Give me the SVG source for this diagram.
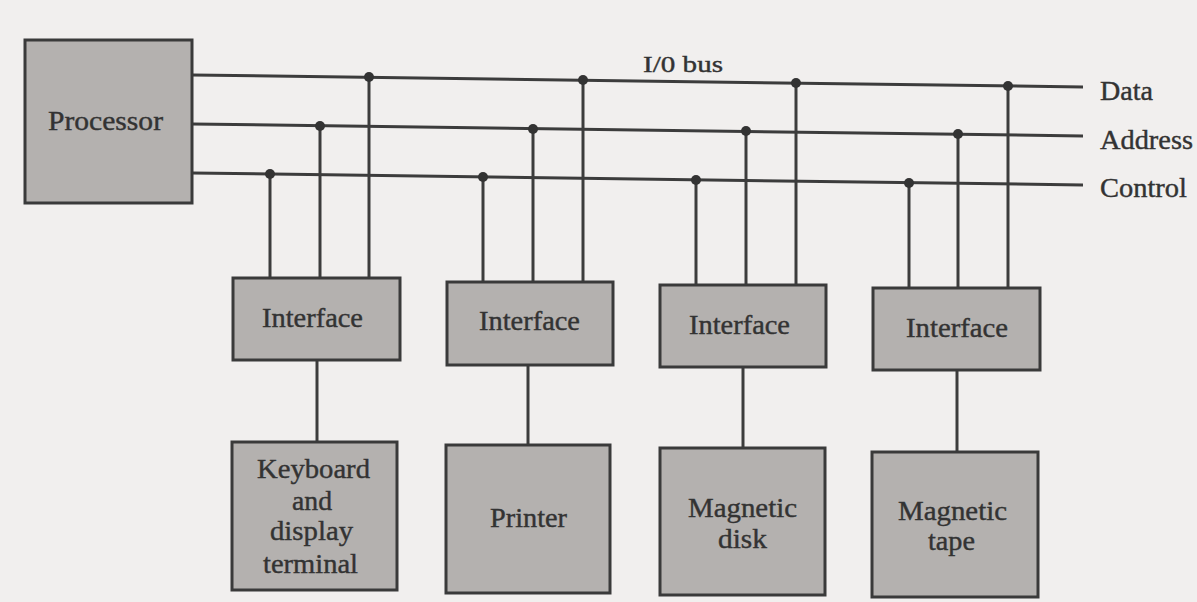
<svg xmlns="http://www.w3.org/2000/svg" width="1197" height="602" viewBox="0 0 1197 602">
<style>
.box{fill:#b4b1af;stroke:#3a3a3a;stroke-width:3}
.ln{stroke:#3c3c3c;stroke-width:3;fill:none}
.dot{fill:#333}
text{font-family:"Liberation Serif","Times New Roman",serif;font-size:27px;fill:#333;stroke:#333;stroke-width:0.4}
</style>
<rect width="1197" height="602" fill="#f1efee"/>
<g id="connectors">
<line class="ln" x1="192" y1="75" x2="1083" y2="87"/>
<line class="ln" x1="192" y1="124" x2="1083" y2="136"/>
<line class="ln" x1="192" y1="173" x2="1083" y2="185"/>
<line class="ln" x1="270" y1="174" x2="270" y2="278"/>
<line class="ln" x1="320" y1="126" x2="320" y2="278"/>
<line class="ln" x1="369" y1="77" x2="369" y2="278"/>
<line class="ln" x1="483" y1="177" x2="483" y2="282"/>
<line class="ln" x1="533" y1="129" x2="533" y2="282"/>
<line class="ln" x1="583" y1="80" x2="583" y2="282"/>
<line class="ln" x1="696" y1="180" x2="696" y2="285"/>
<line class="ln" x1="746" y1="131" x2="746" y2="285"/>
<line class="ln" x1="796" y1="83" x2="796" y2="285"/>
<line class="ln" x1="909" y1="183" x2="909" y2="288"/>
<line class="ln" x1="958" y1="134" x2="958" y2="288"/>
<line class="ln" x1="1008" y1="86" x2="1008" y2="288"/>
<line class="ln" x1="317" y1="360" x2="317" y2="442"/>
<line class="ln" x1="528" y1="365" x2="528" y2="445"/>
<line class="ln" x1="743" y1="367" x2="743" y2="448"/>
<line class="ln" x1="957" y1="370" x2="957" y2="452"/>
<circle class="dot" cx="270" cy="174" r="5"/>
<circle class="dot" cx="320" cy="126" r="5"/>
<circle class="dot" cx="369" cy="77" r="5"/>
<circle class="dot" cx="483" cy="177" r="5"/>
<circle class="dot" cx="533" cy="129" r="5"/>
<circle class="dot" cx="583" cy="80" r="5"/>
<circle class="dot" cx="696" cy="180" r="5"/>
<circle class="dot" cx="746" cy="131" r="5"/>
<circle class="dot" cx="796" cy="83" r="5"/>
<circle class="dot" cx="909" cy="183" r="5"/>
<circle class="dot" cx="958" cy="134" r="5"/>
<circle class="dot" cx="1008" cy="86" r="5"/>
<text x="643" y="72" textLength="80" lengthAdjust="spacingAndGlyphs" style="font-size:24px">I/0 bus</text>
<text x="1100" y="100" textLength="53" lengthAdjust="spacingAndGlyphs">Data</text>
<text x="1100" y="149" textLength="93" lengthAdjust="spacingAndGlyphs">Address</text>
<text x="1100" y="197" textLength="87" lengthAdjust="spacingAndGlyphs">Control</text>
</g>
<g id="processor">
<rect class="box" x="25" y="40" width="167" height="163"/>
<text x="48" y="130" textLength="115" lengthAdjust="spacingAndGlyphs">Processor</text>
</g>
<g id="interface1">
<rect class="box" x="233" y="278" width="167" height="82"/>
<text x="262" y="327" textLength="101" lengthAdjust="spacingAndGlyphs">Interface</text>
</g>
<g id="interface2">
<rect class="box" x="447" y="282" width="166" height="83"/>
<text x="479" y="330" textLength="101" lengthAdjust="spacingAndGlyphs">Interface</text>
</g>
<g id="interface3">
<rect class="box" x="660" y="285" width="166" height="82"/>
<text x="689" y="334" textLength="101" lengthAdjust="spacingAndGlyphs">Interface</text>
</g>
<g id="interface4">
<rect class="box" x="873" y="288" width="167" height="82"/>
<text x="906" y="337" textLength="102" lengthAdjust="spacingAndGlyphs">Interface</text>
</g>
<g id="keyboard">
<rect class="box" x="232" y="442" width="165" height="148"/>
<text x="257" y="478" textLength="113" lengthAdjust="spacingAndGlyphs">Keyboard</text>
<text x="292" y="510" textLength="40" lengthAdjust="spacingAndGlyphs">and</text>
<text x="270" y="540" textLength="83" lengthAdjust="spacingAndGlyphs">display</text>
<text x="263" y="573" textLength="95" lengthAdjust="spacingAndGlyphs">terminal</text>
</g>
<g id="printer">
<rect class="box" x="446" y="445" width="164" height="148"/>
<text x="490" y="527" textLength="77" lengthAdjust="spacingAndGlyphs">Printer</text>
</g>
<g id="disk">
<rect class="box" x="660" y="448" width="165" height="147"/>
<text x="688" y="517" textLength="109" lengthAdjust="spacingAndGlyphs">Magnetic</text>
<text x="718" y="548" textLength="49" lengthAdjust="spacingAndGlyphs">disk</text>
</g>
<g id="tape">
<rect class="box" x="872" y="452" width="166" height="145"/>
<text x="898" y="520" textLength="109" lengthAdjust="spacingAndGlyphs">Magnetic</text>
<text x="928" y="550" textLength="47" lengthAdjust="spacingAndGlyphs">tape</text>
</g>
</svg>
